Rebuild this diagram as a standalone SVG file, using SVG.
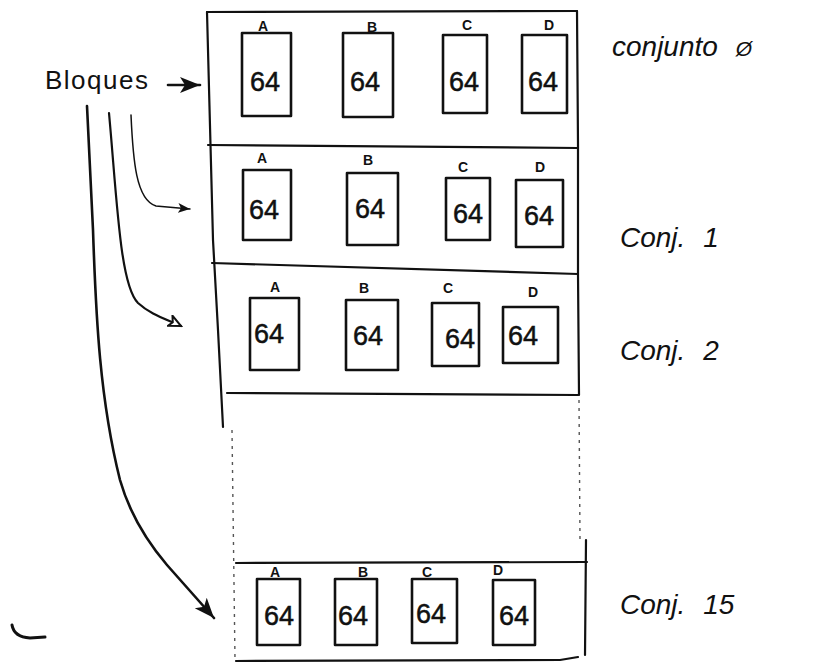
<svg xmlns="http://www.w3.org/2000/svg" width="814" height="666" viewBox="0 0 814 666">
  <style>
    .frame { fill: none; stroke: #111; stroke-width: 2.2; stroke-linecap: round; stroke-linejoin: round; }
    .faint { fill: none; stroke: #555; stroke-width: 1.4; stroke-dasharray: 3 5; }
    .blk { fill: none; stroke: #111; stroke-width: 2.6; stroke-linejoin: round; }
    .val { font-family: "Liberation Sans", Arial, sans-serif; font-size: 27px; fill: #111; stroke: #111; stroke-width: 0.5; text-anchor: middle; }
    .tag { font-family: "Liberation Sans", Arial, sans-serif; font-size: 14px; font-weight: bold; fill: #111; text-anchor: middle; }
    .set { font-family: "Liberation Sans", Arial, sans-serif; font-style: italic; font-size: 28px; fill: #111; word-spacing: 10px; }
    .lbl { font-family: "Liberation Sans", Arial, sans-serif; font-size: 26px; fill: #111; letter-spacing: 1.5px; }
    .wire { fill: none; stroke: #111; stroke-linecap: round; }
  </style>
  <defs>
    <marker id="headFilled" markerUnits="userSpaceOnUse" markerWidth="22" markerHeight="18" refX="20" refY="9" orient="auto">
      <path d="M0,1 L20,9 L0,17 L5,9 Z" fill="#111"/>
    </marker>
    <marker id="headSmall" markerUnits="userSpaceOnUse" markerWidth="14" markerHeight="12" refX="12" refY="6" orient="auto">
      <path d="M0,1 L12,6 L0,11 L3,6 Z" fill="#111"/>
    </marker>
    <marker id="headOpen" markerUnits="userSpaceOnUse" markerWidth="16" markerHeight="14" refX="13" refY="7" orient="auto">
      <path d="M1,1 L13,7 L1,12 L4,7 Z" fill="#fff" stroke="#111" stroke-width="2"/>
    </marker>
  </defs>

  <!-- cache column outline -->
  <g id="cache-frame">
    <path class="frame" d="M207,12 L577,11"/>
    <path class="frame" d="M207,12 L213,240 L218,330 L223,427"/>
    <path class="frame" d="M577,11 L578,145 L578,274 L579,395" stroke-width="1.6"/>
    <path class="frame" d="M208,145 L578,148"/>
    <path class="frame" d="M212,263 L578,274"/>
    <path class="frame" d="M227,393 L578,395"/>
    <path class="faint" d="M579,400 L580,540"/>
    <path class="faint" d="M232,430 L235,660"/>
    <path class="frame" d="M236,563 L587,562"/>
    <path class="frame" d="M586,540 L585,655" stroke-width="3.6"/>
    <path class="frame" d="M236,661 L560,660 L578,657" stroke-width="1.8"/>
  </g>

  <!-- set 0 -->
  <g id="set-0">
    <g id="set0-A"><rect class="blk" x="242" y="33" width="49" height="83"/><text class="tag" x="263" y="31">A</text><text class="val" x="265" y="91">64</text></g>
    <g id="set0-B"><rect class="blk" x="343" y="33" width="50" height="84"/><text class="tag" x="372" y="32">B</text><text class="val" x="365" y="91">64</text></g>
    <g id="set0-C"><rect class="blk" x="443" y="35" width="44" height="78"/><text class="tag" x="467" y="30">C</text><text class="val" x="464" y="91">64</text></g>
    <g id="set0-D"><rect class="blk" x="522" y="35" width="45" height="78"/><text class="tag" x="549" y="30">D</text><text class="val" x="543" y="91">64</text></g>
  </g>

  <!-- set 1 -->
  <g id="set-1">
    <g id="set1-A"><rect class="blk" x="243" y="170" width="48" height="70"/><text class="tag" x="262" y="163">A</text><text class="val" x="264" y="219">64</text></g>
    <g id="set1-B"><rect class="blk" x="347" y="173" width="51" height="72"/><text class="tag" x="368" y="165">B</text><text class="val" x="370" y="218">64</text></g>
    <g id="set1-C"><rect class="blk" x="446" y="178" width="44" height="62"/><text class="tag" x="463" y="172">C</text><text class="val" x="468" y="223">64</text></g>
    <g id="set1-D"><rect class="blk" x="516" y="180" width="47" height="67"/><text class="tag" x="540" y="172">D</text><text class="val" x="539" y="225">64</text></g>
  </g>

  <!-- set 2 -->
  <g id="set-2">
    <g id="set2-A"><rect class="blk" x="250" y="298" width="49" height="72"/><text class="tag" x="275" y="292">A</text><text class="val" x="269" y="343">64</text></g>
    <g id="set2-B"><rect class="blk" x="346" y="300" width="52" height="70"/><text class="tag" x="364" y="293">B</text><text class="val" x="368" y="345">64</text></g>
    <g id="set2-C"><rect class="blk" x="432" y="303" width="47" height="63"/><text class="tag" x="448" y="293">C</text><text class="val" x="460" y="348">64</text></g>
    <g id="set2-D"><rect class="blk" x="503" y="307" width="55" height="56"/><text class="tag" x="533" y="297">D</text><text class="val" x="523" y="345">64</text></g>
  </g>

  <!-- set 15 -->
  <g id="set-15">
    <g id="set15-A"><rect class="blk" x="257" y="579" width="43" height="66"/><text class="tag" x="275" y="577">A</text><text class="val" x="279" y="625">64</text></g>
    <g id="set15-B"><rect class="blk" x="335" y="579" width="42" height="66"/><text class="tag" x="363" y="577">B</text><text class="val" x="353" y="625">64</text></g>
    <g id="set15-C"><rect class="blk" x="412" y="579" width="45" height="64"/><text class="tag" x="427" y="577">C</text><text class="val" x="431" y="623">64</text></g>
    <g id="set15-D"><rect class="blk" x="493" y="580" width="42" height="65"/><text class="tag" x="498" y="575">D</text><text class="val" x="514" y="625">64</text></g>
  </g>

  <!-- set names -->
  <g id="set-names">
    <text class="set" x="612" y="56">conjunto <tspan font-size="21">Ø</tspan></text>
    <text class="set" x="620" y="247">Conj. 1</text>
    <text class="set" x="620" y="360">Conj. 2</text>
    <text class="set" x="620" y="614">Conj. 15</text>
  </g>

  <!-- pointer label -->
  <g id="bloques">
    <text class="lbl" x="45" y="89">Bloques</text>
  </g>

  <!-- connectors from the label to the blocks -->
  <g id="connectors">
    <path class="wire" stroke-width="2.6" d="M168,85 L200,85" marker-end="url(#headFilled)"/>
    <path class="wire" stroke-width="1.5" d="M131,115 C133,160 136,200 156,206 L190,209" marker-end="url(#headSmall)"/>
    <path class="wire" stroke-width="2.2" d="M109,113 C117,200 120,285 138,303 C150,314 163,318 181,326" marker-end="url(#headOpen)"/>
    <path class="wire" stroke-width="2.6" d="M87,106 L93,230 C96,320 100,400 120,480 C130,515 150,545 167,565 L214,618" marker-end="url(#headFilled)"/>
  </g>

  <!-- stray pen mark -->
  <path class="wire" stroke-width="3" d="M12,625 Q14,637 30,638 L45,637"/>
</svg>
